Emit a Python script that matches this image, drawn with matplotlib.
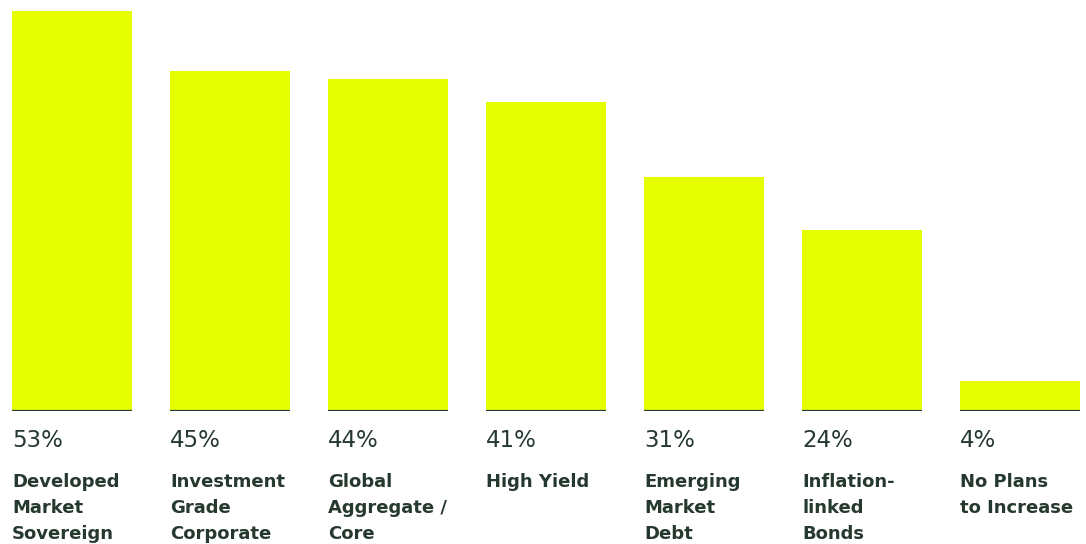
import matplotlib
matplotlib.use("Agg")
import matplotlib.pyplot as plt

# ── data ──────────────────────────────────────────────────────────────────────
categories = [
    "Developed\nMarket\nSovereign",
    "Investment\nGrade\nCorporate",
    "Global\nAggregate /\nCore",
    "High Yield",
    "Emerging\nMarket\nDebt",
    "Inflation-\nlinked\nBonds",
    "No Plans\nto Increase",
]
values = [53, 45, 44, 41, 31, 24, 4]

BAR = "#e5ff00"
INK = "#26392f"

fig = plt.figure(figsize=(10.86, 5.44), dpi=100, facecolor="white")
# baseline sits at 411px from top, bars fill the top part of the canvas
ax = fig.add_axes([0, 133 / 544, 1, 411 / 544])

width = 120 / 158
xs = list(range(len(values)))
ax.bar(xs, values, width=width, color=BAR, zorder=2)
ax.hlines([0] * len(xs), [x - width / 2 for x in xs], [x + width / 2 for x in xs],
          color=INK, linewidth=1.6, zorder=3)

ax.set_xlim(-72 / 158, (1086 - 72) / 158)
ax.set_ylim(0, 411 / 7.547)
ax.axis("off")

px = 1 / 7.547   # one pixel in data units on y
for x, v, c in zip(xs, values, categories):
    left = x - width / 2
    ax.text(left, -36 * px, f"{v}%", ha="left", va="baseline",
            fontsize=16.5, family="DejaVu Sans", color=INK, clip_on=False)
    ax.text(left, -62 * px, c, ha="left", va="top", fontsize=13,
            fontweight="heavy", family="DejaVu Sans", color=INK,
            linespacing=1.56, clip_on=False)

fig.savefig("out.png", dpi=100, facecolor="white")
